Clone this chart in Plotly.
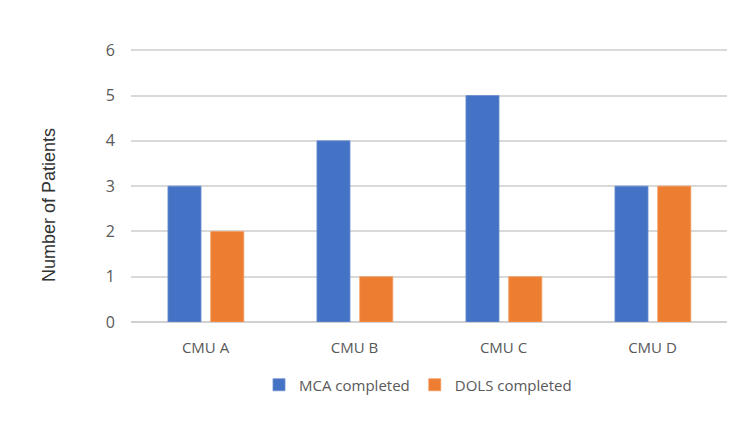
import plotly.graph_objects as go

categories = ["CMU A", "CMU B", "CMU C", "CMU D"]
mca_completed = [3, 4, 5, 3]
dols_completed = [2, 1, 1, 3]
y_ticks = [0, 1, 2, 3, 4, 5, 6]

W, H = 750, 431
L, R, T, B = 131, 23, 48, 109
pw, ph = W - L - R, H - T - B

fig = go.Figure()
fig.add_trace(go.Bar(x=categories, y=mca_completed, name="MCA completed",
                     width=0.222, offset=-0.252,
                     marker=dict(color="#4472C4", line=dict(color="#6d8fd1", width=0.8))))
fig.add_trace(go.Bar(x=categories, y=dols_completed, name="DOLS completed",
                     width=0.222, offset=0.035,
                     marker=dict(color="#ED7D31", line=dict(color="#f39c60", width=0.8))))

fig.update_layout(
    width=W, height=H,
    margin=dict(l=L, r=R, t=T, b=B, autoexpand=False),
    paper_bgcolor="white", plot_bgcolor="white",
    barmode="overlay",
    font=dict(family="Open Sans", color="#595959", size=15),
    showlegend=True,
    legend=dict(orientation="h", x=(418 - L) / pw, xanchor="center",
                y=(322 - 385) / ph, yanchor="middle",
                font=dict(size=15, color="#595959"),
                itemwidth=30, tracegroupgap=0),
    xaxis=dict(showgrid=False, showline=False, zeroline=False, ticks="",
               ticklabelstandoff=15,
               tickfont=dict(size=15, color="#595959")),
    yaxis=dict(range=[0, 6.05], tickvals=y_ticks, showgrid=True, gridcolor="#d9d9d9",
               gridwidth=1.5, zeroline=True, zerolinecolor="#d0d0d0", zerolinewidth=1.5,
               showline=False, ticks="", ticklabelstandoff=15,
               tickfont=dict(size=16, color="#595959")),
    annotations=[dict(text="Number of Patients", textangle=-90, xref="paper", yref="paper",
                      x=(49 - L) / pw, y=(322 - 205) / ph, xanchor="center", yanchor="middle",
                      showarrow=False, font=dict(family="Arial", size=18, color="#333333"))],
)

fig.write_html("out.html")
